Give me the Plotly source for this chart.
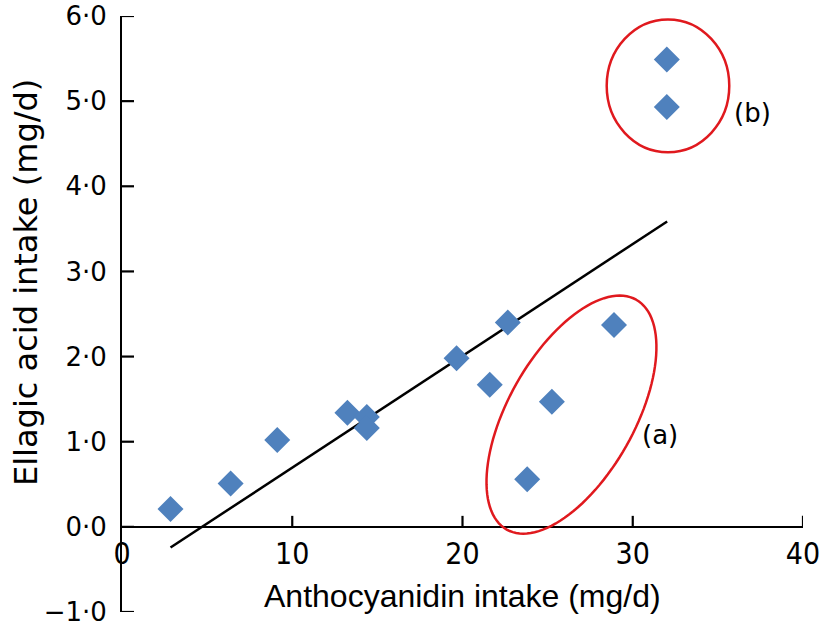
import numpy as np
import plotly.graph_objects as go

# ---- data ----
anthocyanidin = [2.85, 6.38, 9.12, 13.24, 14.38, 14.38, 19.65, 21.6, 22.66, 23.8, 25.25, 28.9, 32.0, 32.0]
ellagic = [0.21, 0.51, 1.02, 1.34, 1.29, 1.16, 1.98, 1.67, 2.40, 0.56, 1.47, 2.37, 5.49, 4.93]

trend_x = [2.85, 32.02]
trend_y = [-0.243, 3.587]

y_tickvals = [-1, 0, 1, 2, 3, 4, 5, 6]
y_ticktext = ["\u22121\u00b70", "0\u00b70", "1\u00b70", "2\u00b70", "3\u00b70", "4\u00b70", "5\u00b70", "6\u00b70"]
x_tickvals = [0, 10, 20, 30, 40]
x_ticktext = ["0", "10", "20", "30", "40"]

# annotation geometry (data units / pixel sizes)
ell_a_center = (26.40, 1.318)
ell_a_axes_px = (131.9, 63.15)
ell_a_angle_deg = 60.6
ell_b_box = (28.47, 4.40, 35.67, 5.96)
label_a_pos = (31.6, 1.08)
label_b_pos = (37.06, 4.86)

W, H = 821, 630
ML, MR, MT, MB = 122, 18, 16, 18
XR = (0, 40)
YR = (-1, 6)
sx = (W - ML - MR) / (XR[1] - XR[0])
sy = (H - MT - MB) / (YR[1] - YR[0])

# rotated ellipse path in data coords (computed in pixel space)
t = np.linspace(0, 2 * np.pi, 121)
a_px, b_px = ell_a_axes_px
th = np.deg2rad(ell_a_angle_deg)
dx = a_px * np.cos(t) * np.cos(th) - b_px * np.sin(t) * np.sin(th)
dy = a_px * np.cos(t) * np.sin(th) + b_px * np.sin(t) * np.cos(th)
ex = ell_a_center[0] + dx / sx
ey = ell_a_center[1] + dy / sy
path = "M " + " L ".join(f"{x:.4f},{y:.4f}" for x, y in zip(ex, ey)) + " Z"

fig = go.Figure()
fig.add_trace(go.Scatter(
    x=trend_x, y=trend_y, mode="lines",
    line=dict(color="black", width=2.5), showlegend=False, hoverinfo="skip"))
fig.add_trace(go.Scatter(
    x=anthocyanidin, y=ellagic, mode="markers",
    marker=dict(symbol="diamond", size=20, color="#4F81BD", line=dict(width=0)),
    showlegend=False))

red = "#E0191E"
fig.add_shape(type="path", path=path, xref="x", yref="y",
              line=dict(color=red, width=2.5), fillcolor="rgba(0,0,0,0)")
fig.add_shape(type="circle", xref="x", yref="y",
              x0=ell_b_box[0], y0=ell_b_box[1], x1=ell_b_box[2], y1=ell_b_box[3],
              line=dict(color=red, width=2.5), fillcolor="rgba(0,0,0,0)")

# inward tick marks (pixel-length shapes anchored at the tick values)
for v in y_tickvals:
    fig.add_shape(type="line", xref="x", yref="y", xsizemode="pixel", xanchor=XR[0],
                  x0=0, x1=12, y0=v, y1=v, line=dict(color="black", width=2.2))
for v in x_tickvals[1:]:
    fig.add_shape(type="line", xref="x", yref="y", ysizemode="pixel", yanchor=0,
                  y0=0, y1=11, x0=v, x1=v, line=dict(color="black", width=2.2))

fig.add_annotation(x=label_a_pos[0], y=label_a_pos[1], xref="x", yref="y", text="(a)",
                   showarrow=False, font=dict(family="DejaVu Sans", size=26, color="black"))
fig.add_annotation(x=label_b_pos[0], y=label_b_pos[1], xref="x", yref="y", text="(b)",
                   showarrow=False, font=dict(family="DejaVu Sans", size=26, color="black"))

# axis titles
fig.add_annotation(x=0.5, y=0.027, xref="paper", yref="paper", xanchor="center", yanchor="middle",
                   text="Anthocyanidin intake (mg/d)", showarrow=False,
                   font=dict(family="Liberation Sans", size=32, color="black"))
fig.add_annotation(x=(26 - ML) / (W - ML - MR), y=(H - MB - 283) / (H - MT - MB),
                   xref="paper", yref="paper", xanchor="center", yanchor="middle",
                   text="Ellagic acid intake (mg/d)", textangle=-90, showarrow=False,
                   font=dict(family="DejaVu Sans", size=32, color="black"))

fig.update_layout(
    width=W, height=H,
    margin=dict(l=ML, r=MR, t=MT, b=MB, autoexpand=False),
    paper_bgcolor="white", plot_bgcolor="white",
    xaxis=dict(range=list(XR), anchor="free", position=(0 - YR[0]) / (YR[1] - YR[0]),
               automargin=False,
               showgrid=False, zeroline=False, showline=True, linecolor="black", linewidth=2,
               ticks="", tickmode="array", tickvals=x_tickvals, ticktext=x_ticktext,
               tickfont=dict(family="Liberation Sans Narrow, DejaVu Sans Condensed, Liberation Sans", size=30, color="black")),
    yaxis=dict(range=list(YR), automargin=False,
               showgrid=False, zeroline=False, showline=True, linecolor="black", linewidth=2,
               ticks="", tickmode="array", tickvals=y_tickvals, ticktext=y_ticktext, ticklabelstandoff=8,
               tickfont=dict(family="DejaVu Sans", size=26, color="black")),
)

fig.write_html("out.html", config={"displayModeBar": False},
               post_script="document.body.style.margin='0px';document.body.style.overflow='hidden';")
